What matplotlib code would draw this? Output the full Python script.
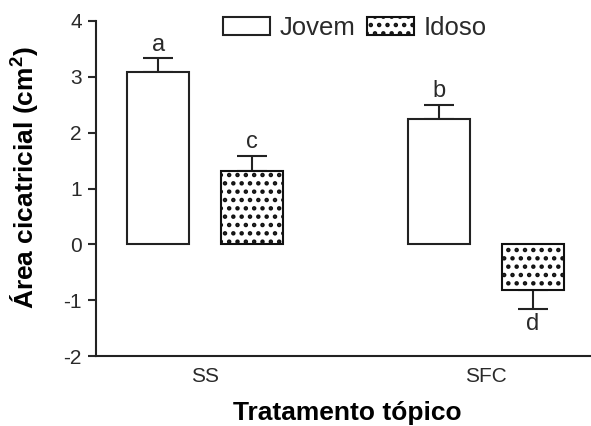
import matplotlib
matplotlib.use('Agg')
import matplotlib.pyplot as plt
import numpy as np

plt.rcParams['font.family'] = ['Liberation Sans', 'DejaVu Sans']
plt.rcParams['mathtext.fontset'] = 'custom'
plt.rcParams['mathtext.rm'] = 'Liberation Sans'
plt.rcParams['mathtext.bf'] = 'Liberation Sans:bold'
plt.rcParams['axes.unicode_minus'] = False
plt.rcParams['hatch.linewidth'] = 2.0

# data
groups = ['SS', 'SFC']
jovem = [3.09, 2.25]
jovem_err = [0.24, 0.25]
idoso = [1.32, -0.82]
idoso_err = [0.27, 0.33]
letters_jovem = ['a', 'b']
letters_idoso = ['c', 'd']

x = np.arange(len(groups))
offset = 0.167
width = 0.222

fig = plt.figure(figsize=(5.91, 4.26), dpi=100)
ax = fig.add_axes([0.162, 0.164, 0.838, 0.787])

b1 = ax.bar(x - offset, jovem, width, color='white', edgecolor='#222222',
            linewidth=1.5, label='Jovem', zorder=3)
b2 = ax.bar(x + offset, idoso, width, color='white', edgecolor='#111111',
            linewidth=1.5, hatch='..', label='Idoso', zorder=3)


def one_sided(vals, errs):
    lower = [e if v < 0 else 0 for v, e in zip(vals, errs)]
    upper = [e if v >= 0 else 0 for v, e in zip(vals, errs)]
    return [lower, upper]


for pos, vals, errs, letters in [(x - offset, jovem, jovem_err, letters_jovem),
                                 (x + offset, idoso, idoso_err, letters_idoso)]:
    ax.errorbar(pos, vals, yerr=one_sided(vals, errs), fmt='none',
                ecolor='#222222', elinewidth=1.5, capsize=11, capthick=1.5,
                zorder=2)
    for p, v, e, t in zip(pos, vals, errs, letters):
        if v >= 0:
            ax.text(p, v + e + 0.05, t, ha='center', va='bottom', fontsize=17,
                    color='#2a2a2a')
        else:
            ax.text(p, v - e - 0.07, t, ha='center', va='top', fontsize=17,
                    color='#2a2a2a')

ax.set_ylim(-2, 4)
ax.set_xlim(-0.389, 1.374)
ax.set_yticks([-2, -1, 0, 1, 2, 3, 4])
ax.set_xticks(x)
ax.set_xticklabels(groups)

for s in ['top', 'right']:
    ax.spines[s].set_visible(False)
for s in ['left', 'bottom']:
    ax.spines[s].set_linewidth(1.5)
    ax.spines[s].set_color('#222222')

ax.tick_params(axis='y', direction='out', length=6, width=1.5,
               labelsize=15, pad=4, colors='#2a2a2a')
ax.tick_params(axis='x', length=0, labelsize=15, pad=8, colors='#2a2a2a')

ax.set_ylabel(r'Área cicatricial (cm$^\mathbf{2}$)', fontsize=19,
              fontweight='bold')
ax.yaxis.label.set_verticalalignment('center')
ax.yaxis.set_label_coords(-0.143, 0.533)
ax.set_xlabel('Tratamento tópico', fontsize=19, fontweight='bold')
ax.xaxis.label.set_verticalalignment('center')
ax.xaxis.set_label_coords(0.507, -0.17)

leg = ax.legend(handles=[b1, b2], loc='center', bbox_to_anchor=(0.523, 0.979),
                ncol=2, frameon=False, fontsize=18.5, handlelength=1.83,
                handleheight=0.66, handletextpad=0.35, columnspacing=0.47,
                borderpad=0, borderaxespad=0)
for t in leg.get_texts():
    t.set_color('#2a2a2a')

fig.savefig('out.png', dpi=100)
